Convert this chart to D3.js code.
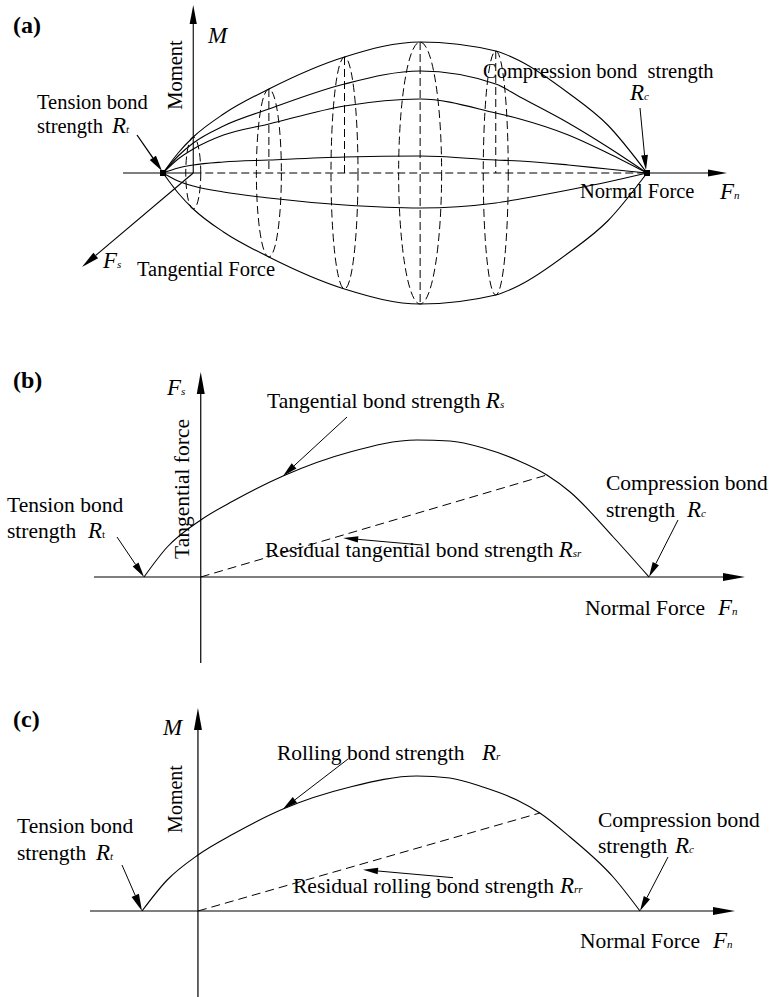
<!DOCTYPE html>
<html>
<head>
<meta charset="utf-8">
<script src="https://cdn.jsdelivr.net/npm/d3@7"></script>
<style>
  html, body { margin: 0; padding: 0; background: #fff; }
  svg { display: block; }
  text { font-family: "Liberation Serif", "DejaVu Serif", serif; fill: #000; }
</style>
</head>
<body>
<svg id="fig" width="771" height="997" font-family="Liberation Serif, DejaVu Serif, serif"></svg>
<script>
// ---------- (a) bond strength surface in (Fn, Fs, M) space ----------
// Normal force in units of the tension bond strength (Rt = -1)
const surfFn       = [-1, -0.5, 0, 1, 2.5, 5, 7.5, 10, 10.8, 12.4, 13.7, 15];
// Moment along the meridians of the surface (upper envelope first, lower envelope last)
const surfEnvelope = [0, 2.0, 3.6, 5.9, 8.4, 11.6, 13.1, 12.2, 11.2, 8.0, 4.8, 0];
const surfMerid2   = [0, 1.7, 3.0, 4.7, 6.4, 8.9, 10.2, 8.9, 7.6, 5.0, 2.6, 0];
const surfMerid3   = [0, 1.4, 2.4, 3.8, 4.9, 6.7, 7.4, 6.0, 5.4, 3.8, 2.0, 0];
const surfMerid4   = [0, 0.5, 0.8, 1.1, 1.3, 1.6, 1.7, 1.3, 1.2, 0.8, 0.4, 0];
const surfMerid5   = [0, -0.8, -1.3, -1.9, -2.5, -3.2, -3.5, -3.0, -2.6, -1.7, -0.9, 0];
const surfLower    = surfEnvelope.map(v => -v);
// Cross sections of the surface
const sectionFn    = [0, 2.5, 5, 7.5, 10];
const sectionDepth = [0.75, 1.25, 1.35, 2.15, 1.25];
const sectionFull  = [false, false, false, true, false];
const surfRt = -1, surfRc = 15;

// ---------- (b) tangential bond strength ----------
const tanFn = [-1, -0.59, 0, 0.57, 1.45, 2.63, 3.81, 4.39, 4.98, 5.57, 6.1, 6.51, 7.27, 7.9];
const tanFs = [0, 1.5, 2.85, 3.8, 5.05, 6.25, 6.85, 6.8, 6.45, 5.85, 5.1, 4.25, 2.0, 0];
const tanRt = -1, tanRc = 7.9;
const tanResidualEnd = [6.1, 5.1];
const tanArrowAt = [1.45, 5.05];
const tanResidualArrowAt = 2.51;

// ---------- (c) rolling bond strength ----------
const rollFn = [-1, -0.55, 0, 0.63, 1.52, 2.72, 3.91, 4.5, 5.09, 5.7, 6.11, 6.65, 7.42, 7.9];
const rollM  = [0, 1.55, 2.8, 3.85, 5.1, 6.2, 6.75, 6.65, 6.2, 5.55, 4.9, 3.7, 1.7, 0];
const rollRt = -1, rollRc = 7.9;
const rollResidualEnd = [6.11, 4.9];
const rollArrowAt = [1.52, 5.1];
const rollResidualArrowAt = 2.95;

const svg = d3.select('#fig');
const INK = '#000';
const SERIF = 'Liberation Serif, DejaVu Serif, serif';

function arrowHead(g, tipX, tipY, fromX, fromY, len, hw) {
  const dx = tipX - fromX, dy = tipY - fromY, L = Math.hypot(dx, dy);
  const ux = dx / L, uy = dy / L;
  const bx = tipX - ux * len, by = tipY - uy * len;
  g.append('path')
    .attr('d', `M${tipX},${tipY}L${bx - uy * hw},${by + ux * hw}L${bx + uy * hw},${by - ux * hw}Z`)
    .attr('fill', INK);
  return [bx, by];
}
function arrow(g, x1, y1, x2, y2, len = 14, hw = 3.2, sw = 1) {
  const [bx, by] = arrowHead(g, x2, y2, x1, y1, len, hw);
  g.append('line').attr('x1', x1).attr('y1', y1).attr('x2', bx).attr('y2', by)
    .attr('stroke', INK).attr('stroke-width', sw);
}
function seg(g, x1, y1, x2, y2, sw = 1.1, dash = null) {
  const l = g.append('line').attr('x1', x1).attr('y1', y1).attr('x2', x2).attr('y2', y2)
    .attr('stroke', INK).attr('stroke-width', sw);
  if (dash) l.attr('stroke-dasharray', dash);
  return l;
}
function rich(g, x, y, size, parts) {
  const t = g.append('text').attr('x', x).attr('y', y).attr('font-size', size)
    .attr('font-family', SERIF).style('white-space', 'pre');
  parts.forEach(p => {
    const s = t.append('tspan').text(p.t);
    if (p.x != null) s.attr('x', p.x);
    if (p.i) s.attr('font-style', 'italic');
    if (p.s) s.attr('font-size', p.s);
    if (p.b) s.attr('font-weight', 'bold');
  });
  return t;
}
function vlabel(g, x, y, size, str) {
  g.append('text').attr('transform', `translate(${x},${y}) rotate(-90)`)
    .attr('font-family', SERIF)
    .attr('text-anchor', 'middle').attr('font-size', size).text(str);
}
const sym = 23, sub = 11;

// ====================== Panel (a) ======================
{
  const g = svg.append('g');
  const x = d3.scaleLinear().domain([surfRt, surfRc]).range([163, 647]);
  const y = d3.scaleLinear().domain([0, 10]).range([173, 73]);
  const depth = d3.scaleLinear().domain([0, 1]).range([0, 10]);
  const x0 = x(0), y0 = y(0);

  // cross sections
  sectionFn.forEach((fn, i) => {
    const h = surfEnvelope[surfFn.indexOf(fn)];
    g.append('ellipse').attr('cx', x(fn)).attr('cy', y0)
      .attr('rx', depth(sectionDepth[i])).attr('ry', y0 - y(h))
      .attr('fill', 'none').attr('stroke', INK).attr('stroke-width', 1).attr('stroke-dasharray', '8,4');
    if (fn !== 0) seg(g, x(fn), y(h), x(fn), sectionFull[i] ? y(-h) : y0, 1, '8,4');
  });

  // meridians of the surface
  const line = d3.line().x((d, i) => x(surfFn[i])).y(d => y(d)).curve(d3.curveMonotoneX);
  [surfEnvelope, surfMerid2, surfMerid3, surfMerid4, surfMerid5, surfLower].forEach(s => {
    g.append('path').attr('d', line(s)).attr('fill', 'none').attr('stroke', INK).attr('stroke-width', 1.1);
  });

  // Fn axis
  seg(g, 123, y0, x0, y0, 1.1);
  seg(g, x0, y0, x(surfRc), y0, 1.1, '8,4');
  const [ax] = arrowHead(g, 727, y0, 700, y0, 19, 3.6);
  seg(g, x(surfRc), y0, ax, y0, 1.1);
  // M axis
  const [, my] = arrowHead(g, x0, 5, x0, 40, 19, 3.6);
  seg(g, x0, y0, x0, my, 1.1);
  // Fs axis (oblique projection)
  const [fx, fy] = arrowHead(g, 82, 267, x0, y0, 18, 3.6);
  seg(g, x0, y0, fx, fy, 1.1);

  // Rt and Rc points
  [surfRt, surfRc].forEach(v => g.append('rect').attr('x', x(v) - 3).attr('y', y0 - 3)
    .attr('width', 6).attr('height', 6).attr('fill', INK));
  arrow(g, x(surfRt) - 26, y0 - 38, x(surfRt) - 1, y0 - 2, 16, 3.8, 1.3);
  arrow(g, x(surfRc) - 7, y0 - 65, x(surfRc) - 1, y0 - 3, 15, 3.4, 1);

  rich(g, 13, 33, 24, [{ t: '(a)', b: true }]);
  rich(g, 208, 43, sym, [{ t: 'M', i: true }]);
  vlabel(g, 182, 75, 20.5, 'Moment');
  rich(g, 37, 109, 20.5, [{ t: 'Tension bond' }]);
  rich(g, 37, 133, 20.5, [{ t: 'strength' }, { t: 'R', i: true, s: sym, x: 112 }, { t: 't', i: true, s: sub }]);
  rich(g, 483, 78, 20.5, [{ t: 'Compression bond  strength' }]);
  rich(g, 630, 100, 20.5, [{ t: 'R', i: true, s: sym }, { t: 'c', i: true, s: sub }]);
  rich(g, 580, 198, 20.5, [{ t: 'Normal Force' }]);
  rich(g, 720, 199, 20.5, [{ t: 'F', i: true, s: sym }, { t: 'n', i: true, s: sub }]);
  rich(g, 103, 268, 20.5, [{ t: 'F', i: true, s: sym }, { t: 's', i: true, s: sub }]);
  rich(g, 137, 276, 20.5, [{ t: 'Tangential Force' }]);
}

// ====================== Panel (b) ======================
{
  const g = svg.append('g');
  const x = d3.scaleLinear().domain([tanRt, tanRc]).range([144, 649]);
  const y = d3.scaleLinear().domain([0, 7]).range([577, 437]);
  const x0 = x(0), y0 = y(0);

  const [hx] = arrowHead(g, 745, y0, 700, y0, 22, 4);
  seg(g, 94, y0, hx, y0, 1.2);
  const [, vy] = arrowHead(g, x0, 372, x0, 420, 22, 4);
  seg(g, x0, 663, x0, vy, 1.2);

  // residual strength line and peak strength curve
  seg(g, x0, y0, x(tanResidualEnd[0]), y(tanResidualEnd[1]), 1, '9,5');
  const line = d3.line().x((d, i) => x(tanFn[i])).y(d => y(d)).curve(d3.curveMonotoneX);
  g.append('path').attr('d', line(tanFs)).attr('fill', 'none').attr('stroke', INK).attr('stroke-width', 1.1);

  arrow(g, x(tanArrowAt[0]) + 64, y(tanArrowAt[1]) - 59, x(tanArrowAt[0]), y(tanArrowAt[1]), 15, 3.5);
  arrow(g, x(tanRt) - 27, y0 - 40, x(tanRt), y0, 15, 3.5);
  arrow(g, x(tanRc) + 29, y0 - 57, x(tanRc), y0, 15, 3.5);
  const rx = x(tanResidualArrowAt), ry = y(tanResidualArrowAt * tanResidualEnd[1] / tanResidualEnd[0]) + 3;
  arrow(g, rx + 79, ry + 7, rx, ry, 15, 3.2);

  rich(g, 13, 388, 24, [{ t: '(b)', b: true }]);
  rich(g, 167, 395, 21.5, [{ t: 'F', i: true, s: sym }, { t: 's', i: true, s: sub }]);
  vlabel(g, 189, 489, 21.5, 'Tangential force');
  rich(g, 267, 408, 21.5, [{ t: 'Tangential bond strength ' }, { t: 'R', i: true, s: sym }, { t: 's', i: true, s: sub }]);
  rich(g, 7, 512, 21.5, [{ t: 'Tension bond' }]);
  rich(g, 7, 538, 21.5, [{ t: 'strength' }, { t: 'R', i: true, s: sym, x: 88 }, { t: 't', s: sub }]);
  rich(g, 265, 557, 21.5, [{ t: 'Residual tangential bond strength ' }, { t: 'R', i: true, s: sym }, { t: 'sr', i: true, s: sub }]);
  rich(g, 606, 490, 21.5, [{ t: 'Compression bond' }]);
  rich(g, 606, 517, 21.5, [{ t: 'strength' }, { t: 'R', i: true, s: sym, x: 687 }, { t: 'c', i: true, s: sub }]);
  rich(g, 585, 615, 21.5, [{ t: 'Normal Force' }, { t: 'F', i: true, s: sym, x: 718 }, { t: 'n', i: true, s: sub }]);
}

// ====================== Panel (c) ======================
{
  const g = svg.append('g');
  const x = d3.scaleLinear().domain([rollRt, rollRc]).range([142, 640]);
  const y = d3.scaleLinear().domain([0, 7]).range([911, 771]);
  const x0 = x(0), y0 = y(0);

  const [hx] = arrowHead(g, 735, y0, 700, y0, 22, 4);
  seg(g, 90, y0, hx, y0, 1.2);
  const [, vy] = arrowHead(g, x0, 708, x0, 760, 22, 4);
  seg(g, x0, 997, x0, vy, 1.2);

  seg(g, x0, y0, x(rollResidualEnd[0]), y(rollResidualEnd[1]), 1, '9,5');
  const line = d3.line().x((d, i) => x(rollFn[i])).y(d => y(d)).curve(d3.curveMonotoneX);
  g.append('path').attr('d', line(rollM)).attr('fill', 'none').attr('stroke', INK).attr('stroke-width', 1.1);

  arrow(g, x(rollArrowAt[0]) + 65, y(rollArrowAt[1]) - 50, x(rollArrowAt[0]), y(rollArrowAt[1]), 15, 3.5);
  arrow(g, x(rollRt) - 20, y0 - 46, x(rollRt), y0, 17, 4);
  arrow(g, x(rollRc) + 28, y0 - 54, x(rollRc), y0, 15, 3.5);
  const rx = x(rollResidualArrowAt), ry = y(rollResidualArrowAt * rollResidualEnd[1] / rollResidualEnd[0]) + 6;
  arrow(g, rx + 90, ry + 8, rx, ry, 15, 3.2);

  rich(g, 13, 727, 24, [{ t: '(c)', b: true }]);
  rich(g, 163, 735, sym, [{ t: 'M', i: true }]);
  vlabel(g, 182, 799, 20, 'Moment');
  rich(g, 277, 760, 21.5, [{ t: 'Rolling bond strength  ' }, { t: 'R', i: true, s: sym, x: 482 }, { t: 'r', i: true, s: sub }]);
  rich(g, 17, 833, 21.5, [{ t: 'Tension bond' }]);
  rich(g, 17, 860, 21.5, [{ t: 'strength' }, { t: 'R', i: true, s: sym, x: 96 }, { t: 't', i: true, s: sub }]);
  rich(g, 293, 893, 21.5, [{ t: 'Residual rolling bond strength ' }, { t: 'R', i: true, s: sym, x: 560 }, { t: 'rr', i: true, s: sub }]);
  rich(g, 598, 827, 21.5, [{ t: 'Compression bond' }]);
  rich(g, 598, 853, 21.5, [{ t: 'strength' }, { t: 'R', i: true, s: sym, x: 675 }, { t: 'c', i: true, s: sub }]);
  rich(g, 580, 948, 21.5, [{ t: 'Normal Force' }, { t: 'F', i: true, s: sym, x: 713 }, { t: 'n', i: true, s: sub }]);
}
</script>
</body>
</html>
